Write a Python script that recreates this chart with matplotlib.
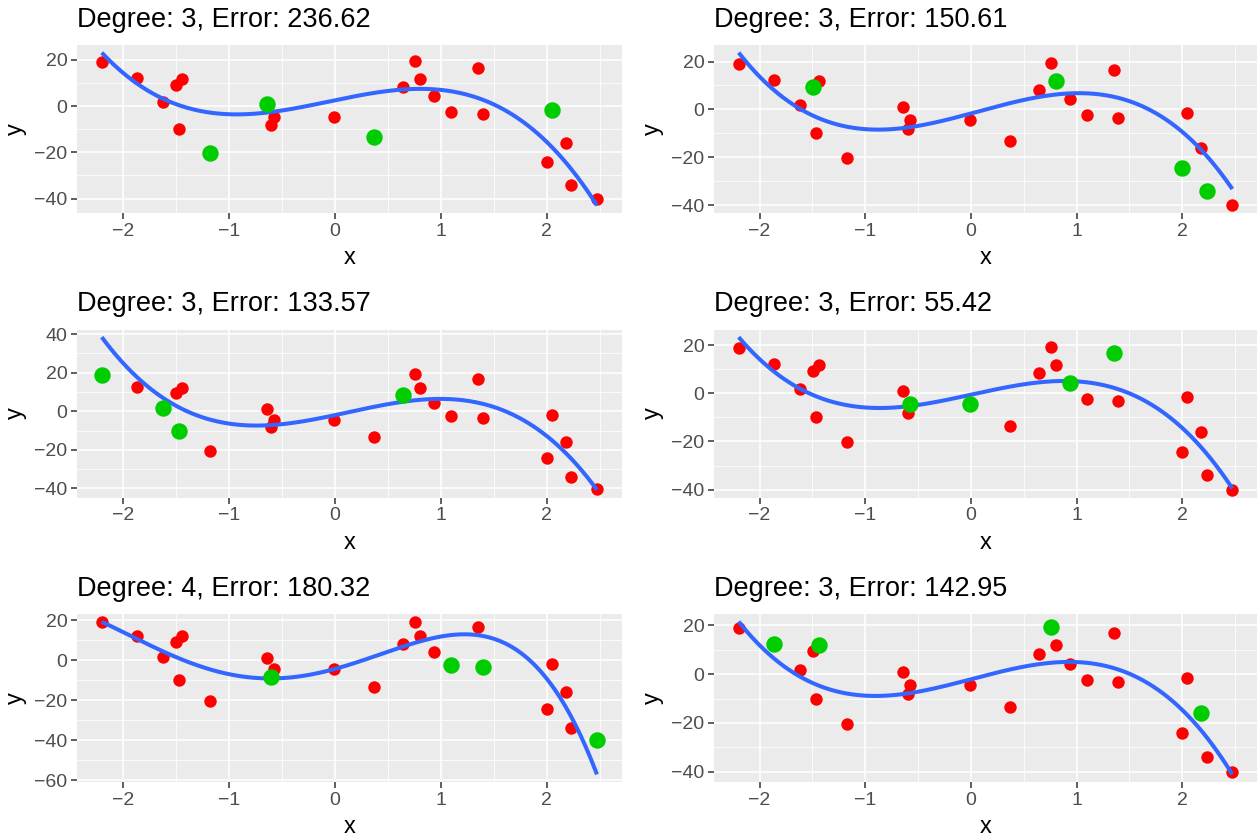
import numpy as np
import matplotlib
matplotlib.use("Agg")
import matplotlib.pyplot as plt
from matplotlib.ticker import MultipleLocator

plt.rcParams['font.family'] = ['Liberation Sans', 'DejaVu Sans']

# data points
x = np.array([-2.197, -1.867, -1.621, -1.496, -1.439, -1.470, -1.174, -0.640,
              -0.576, -0.598, -0.011, 0.367, 0.648, 0.761, 0.807, 0.939,
              1.095, 1.352, 1.394, 2.049, 2.000, 2.180, 2.231, 2.473])
y = np.array([18.9, 12.3, 1.7, 9.3, 11.9, -10.0, -20.4, 0.9,
              -4.6, -8.3, -4.6, -13.4, 8.3, 19.3, 11.9, 4.3,
              -2.4, 16.6, -3.4, -1.7, -24.3, -16.0, -34.0, -40.1])

# held-out points (indices) for each panel
test_idx = [[6, 7, 11, 19],
            [3, 14, 20, 22],
            [0, 2, 5, 12],
            [8, 10, 15, 17],
            [9, 16, 18, 23],
            [1, 4, 13, 21]]
degrees = [3, 3, 3, 3, 4, 3]
errors = ["236.62", "150.61", "133.57", "55.42", "180.32", "142.95"]

W, H = 1257, 838
fig = plt.figure(figsize=(W / 100, H / 100), dpi=100)

lefts = [77, 714]
widths = [544.7, 543]
tops = [45, 329.5, 614]
ph = 168

xs = np.linspace(x.min(), x.max(), 300)
xr = x.max() - x.min()

for k in range(6):
    r, c = k // 2, k % 2
    ax = fig.add_axes([lefts[c] / W, 1 - (tops[r] + ph) / H, widths[c] / W, ph / H])
    ax.set_facecolor('#EBEBEB')
    test = np.zeros(len(x), dtype=bool)
    test[test_idx[k]] = True
    coef = np.polyfit(x[~test], y[~test], degrees[k])
    ys = np.polyval(coef, xs)

    ax.scatter(x[~test], y[~test], s=80, color='#FF0000', lw=0, zorder=3)
    ax.plot(xs, ys, color='#3366FF', lw=2.9, zorder=4, solid_capstyle='butt')
    ax.scatter(x[test], y[test], s=140, color='#00CD00', lw=0, zorder=5)

    ax.set_xlim(x.min() - 0.05 * xr, x.max() + 0.05 * xr)
    lo = min(y.min(), ys.min())
    hi = max(y.max(), ys.max())
    ax.set_ylim(lo - 0.05 * (hi - lo), hi + 0.05 * (hi - lo))

    ax.xaxis.set_major_locator(MultipleLocator(1))
    ax.xaxis.set_minor_locator(MultipleLocator(0.5))
    ax.yaxis.set_major_locator(MultipleLocator(20))
    ax.yaxis.set_minor_locator(MultipleLocator(10))
    ax.grid(which='major', color='white', lw=1.1, zorder=0)
    ax.grid(which='minor', color='white', lw=0.55, zorder=0)
    ax.set_axisbelow(True)
    for s in ax.spines.values():
        s.set_visible(False)
    ax.tick_params(which='major', length=4, width=1.1, color='#333333',
                   labelcolor='#4D4D4D', labelsize=14, pad=3)
    ax.tick_params(which='minor', length=0)
    ax.set_xticklabels([str(int(t)).replace('-', '\u2212') for t in ax.get_xticks()])
    ax.set_yticklabels([str(int(t)).replace('-', '\u2212') for t in ax.get_yticks()])

    ax.set_xlabel('x', fontsize=17, labelpad=5.5)
    ax.set_ylabel('y', fontsize=17, labelpad=5)
    ax.set_title(f"Degree: {degrees[k]}, Error: {errors[k]}", loc='left',
                 fontsize=19.5, pad=13)

fig.savefig('out.png', dpi=100)
